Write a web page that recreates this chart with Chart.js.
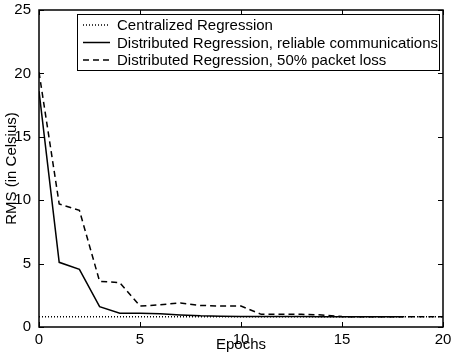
<!DOCTYPE html>
<html>
<head>
<meta charset="utf-8">
<script src="https://cdn.jsdelivr.net/npm/chart.js@4/dist/chart.umd.min.js"></script>
<style>
  html, body { margin: 0; padding: 0; background: #fff; }
  #wrap { width: 453px; height: 354px; }
</style>
</head>
<body>
<div id="wrap"><canvas id="rmsChart"></canvas></div>
<script>
// Data
const epochs = [0, 1, 2, 3, 4, 5, 6, 7, 8, 9, 10, 11, 12, 13, 14, 15, 16, 17, 18, 19, 20];
const centralized = [0.8, 0.8, 0.8, 0.8, 0.8, 0.8, 0.8, 0.8, 0.8, 0.8, 0.8, 0.8, 0.8, 0.8, 0.8, 0.8, 0.8, 0.8, 0.8, 0.8, 0.8];
const reliable = [18.6, 5.1, 4.55, 1.6, 1.08, 1.08, 1.05, 0.95, 0.88, 0.85, 0.83, 0.82, 0.82, 0.82, 0.81, 0.8, 0.8, 0.8, 0.8];
const packetLoss = [20.1, 9.7, 9.2, 3.6, 3.5, 1.65, 1.75, 1.9, 1.7, 1.65, 1.65, 1.0, 1.0, 1.0, 0.95, 0.82, 0.8, 0.8, 0.8, 0.8, 0.8];
const seriesNames = [
  "Centralized Regression",
  "Distributed Regression, reliable communications",
  "Distributed Regression, 50% packet loss",
];
const xTicks = [0, 5, 10, 15, 20];
const yTicks = [0, 5, 10, 15, 20, 25];

const FONT = "Liberation Sans, Arial, sans-serif";
const dashes = [[1, 2], [], [6, 4]];

function toPoints(values) {
  return values.map((v, i) => ({ x: epochs[i], y: v }));
}

// box, inward ticks, axis titles and legend
const framePlugin = {
  id: "frame",
  afterDatasetsDraw(chart) {
    const { ctx, chartArea: a, scales } = chart;
    ctx.save();
    ctx.strokeStyle = "#000";
    ctx.lineWidth = 1.5;
    ctx.setLineDash([]);
    ctx.strokeRect(a.left, a.top, a.right - a.left, a.bottom - a.top);

    ctx.lineWidth = 1;
    const t = 5;
    ctx.beginPath();
    xTicks.forEach((v) => {
      const x = Math.round(scales.x.getPixelForValue(v)) + 0.5;
      ctx.moveTo(x, a.bottom); ctx.lineTo(x, a.bottom - t);
      ctx.moveTo(x, a.top); ctx.lineTo(x, a.top + t);
    });
    yTicks.forEach((v) => {
      const y = Math.round(scales.y.getPixelForValue(v)) + 0.5;
      ctx.moveTo(a.left, y); ctx.lineTo(a.left + t, y);
      ctx.moveTo(a.right, y); ctx.lineTo(a.right - t, y);
    });
    ctx.stroke();

    // axis titles
    ctx.fillStyle = "#000";
    ctx.font = "15px " + FONT;
    ctx.textAlign = "center";
    ctx.textBaseline = "middle";
    ctx.fillText("Epochs", (a.left + a.right) / 2, 345);
    ctx.save();
    ctx.translate(12, (a.top + a.bottom) / 2);
    ctx.rotate(-Math.PI / 2);
    ctx.fillText("RMS (in Celsius)", 0, 0);
    ctx.restore();

    // legend
    const lx = 77, ly = 14, lw = 362, lh = 56;
    ctx.fillStyle = "#fff";
    ctx.fillRect(lx, ly, lw, lh);
    ctx.lineWidth = 1;
    ctx.strokeRect(lx + 0.5, ly + 0.5, lw, lh);
    ctx.font = "15px " + FONT;
    ctx.textAlign = "left";
    seriesNames.forEach((name, i) => {
      const y = ly + 11 + i * 17.5;
      ctx.setLineDash(dashes[i]);
      ctx.lineWidth = 1.5;
      ctx.beginPath();
      ctx.moveTo(lx + 6, y);
      ctx.lineTo(lx + 33, y);
      ctx.stroke();
      ctx.setLineDash([]);
      ctx.fillStyle = "#000";
      ctx.fillText(name, lx + 40, y + 1);
    });
    ctx.restore();
  },
};

new Chart(document.getElementById("rmsChart"), {
  type: "line",
  data: {
    datasets: [centralized, reliable, packetLoss].map((vals, i) => ({
      label: seriesNames[i],
      data: toPoints(vals),
      borderColor: "#000",
      borderWidth: 1.5,
      borderDash: dashes[i],
      pointRadius: 0,
      fill: false,
      tension: 0,
    })),
  },
  options: {
    responsive: true,
    maintainAspectRatio: false,
    animation: false,
    layout: { padding: { top: 10, right: 10, left: 0, bottom: 0 } },
    plugins: {
      legend: { display: false },
      tooltip: { enabled: false },
    },
    scales: {
      x: {
        type: "linear",
        min: 0,
        max: 20,
        afterBuildTicks: (s) => { s.ticks = xTicks.map((v) => ({ value: v })); },
        afterFit: (s) => { s.height = 27; s.paddingRight = 0; s.paddingLeft = 0; },
        grid: { display: false },
        border: { display: false },
        ticks: { color: "#000", font: { family: FONT, size: 15 }, padding: -4, maxRotation: 0 },
      },
      y: {
        min: 0,
        max: 25,
        afterBuildTicks: (s) => { s.ticks = yTicks.map((v) => ({ value: v })); },
        afterFit: (s) => { s.width = 39; },
        grid: { display: false },
        border: { display: false },
        ticks: { color: "#000", font: { family: FONT, size: 15 }, padding: 0 },
      },
    },
  },
  plugins: [framePlugin],
});
</script>
</body>
</html>
